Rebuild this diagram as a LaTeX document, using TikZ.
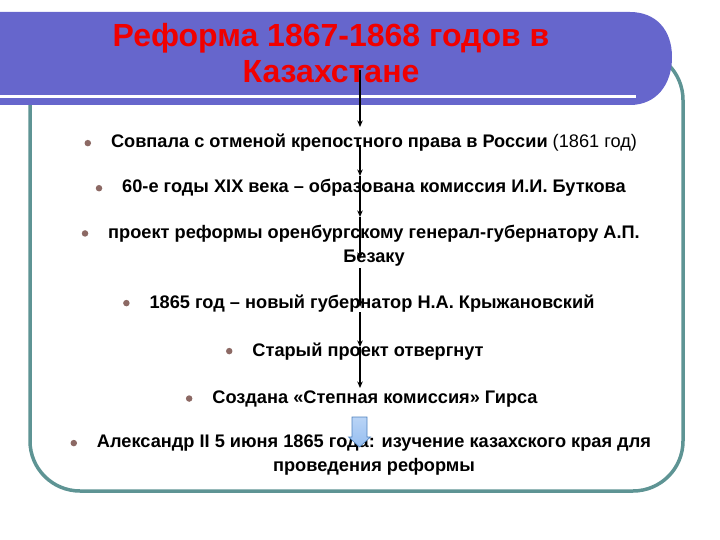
\documentclass[tikz,border=0pt]{standalone}
\usepackage{fontspec}
\setmainfont{Liberation Sans}
\usetikzlibrary{arrows.meta,calc}
\definecolor{bannerc}{RGB}{102,102,204}
\definecolor{framec}{RGB}{94,148,148}
\definecolor{dotc}{RGB}{140,105,100}
\definecolor{ttlc}{RGB}{240,0,0}
\definecolor{bafill}{RGB}{150,190,240}
\definecolor{batop}{RGB}{185,212,246}
\definecolor{badraw}{RGB}{79,129,189}
\begin{document}
\begin{tikzpicture}[x=1pt,y=-1pt,
 item/.style={font=\fontsize{18.2}{23.5}\selectfont\bfseries, align=center, inner sep=0pt, anchor=base},
 ttl/.style={font=\fontsize{32}{36.5}\selectfont\bfseries, text=ttlc, align=center, inner sep=0pt, anchor=base},
 dotmark/.style={circle, fill=dotc, minimum size=6.5pt, inner sep=0pt},
 flow/.style={line width=1.3pt, -{Stealth[length=6.5pt,width=5.5pt]}},
]
\useasboundingbox (0,0) rectangle (720,540);
% frame
\draw[framec, line width=3.5pt, rounded corners=50pt] (30,50) rectangle (683,491);
% banner
\fill[bannerc] (-5,12) -- (630,12) .. controls (656,12) and (672,30) .. (672,57)
  .. controls (672,85) and (656,105) .. (630,105) -- (-5,105) -- cycle;
\fill[white] (-5,95) rectangle (636,98.5);
% title (base anchor = last line)
\node[ttl] (title) at (331,83) {Реформа 1867-1868 годов в\\Казахстане};
% items
\node[item] (t1) at (374,148) {Совпала с отменой крепостного права в России {\mdseries (1861 год)}};
\node[item] (t2) at (374,193) {60-е годы XIX века – образована комиссия И.И. Буткова};
\node[item] (t3) at (374,262) {проект реформы оренбургскому генерал-губернатору А.П.\\Безаку};
\node[item] (t4) at (372,308) {1865 год – новый губернатор Н.А. Крыжановский};
\node[item] (t5) at (368,356) {Старый проект отвергнут};
\node[item] (t6) at (375,403) {Создана «Степная комиссия» Гирса};
\node[item] (t7) at (374,471) {Александр II 5 июня 1865 года: изучение казахского края для\\проведения реформы};
% bullets
\node[dotmark] (d1) at ([xshift=-23pt]t1.west) {};
\node[dotmark] (d2) at ([xshift=-23pt]t2.west) {};
\node[dotmark] (d3) at ($(t3.north west)+(-23,8.5)$) {};
\node[dotmark] (d4) at ([xshift=-23pt]t4.west) {};
\node[dotmark] (d5) at ([xshift=-23pt]t5.west) {};
\node[dotmark] (d6) at ([xshift=-23pt]t6.west) {};
\node[dotmark] (d7) at ($(t7.north west)+(-23,8.5)$) {};
% vertical arrows
\coordinate (v0) at (360,70);
\coordinate (v1) at (360,127);
\coordinate (v2) at (360,145);
\coordinate (v3) at (360,176);
\coordinate (v4) at (360,217);
\coordinate (v5) at (360,259);
\coordinate (v6) at (360,268);
\coordinate (v7) at (360,307);
\coordinate (v8) at (360,312);
\coordinate (v9) at (360,347);
\coordinate (v10) at (360,388);
\draw[flow] (v0) -- (v1);
\draw[flow] (v2) -- (v3);
\draw[flow] (v3) -- (v4);
\draw[flow] (v4) -- (v5);
\draw[flow] (v6) -- (v7);
\draw[flow] (v8) -- (v9);
\draw[flow] (v9) -- (v10);
% block arrow
\draw[draw=badraw, line width=0.6pt, top color=batop, bottom color=bafill]
  (352,417) -- (367,417) -- (367,437) -- (370.5,437) -- (359.5,447) -- (348.5,437) -- (352,437) -- cycle;
\end{tikzpicture}
\end{document}
